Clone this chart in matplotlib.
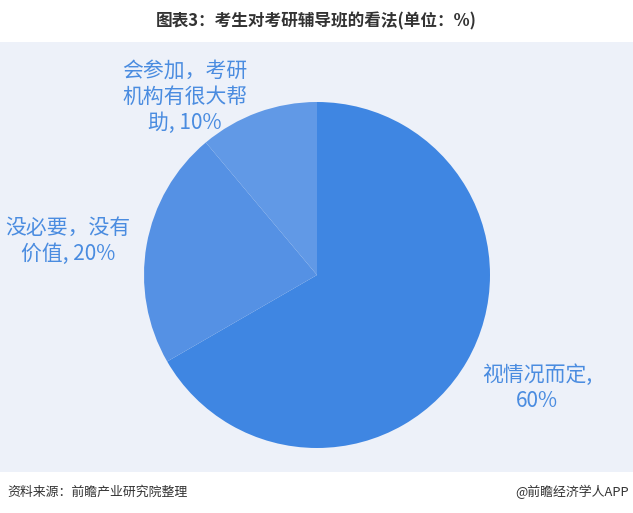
import matplotlib.pyplot as plt
from matplotlib.patches import Rectangle

plt.rcParams['font.family'] = ['Noto Sans CJK SC', 'DejaVu Sans']

# data
categories = ['视情况而定,\n60%', '没必要，没有\n价值, 20%', '会参加，考研\n机构有很大帮\n助, 10%']
values = [60, 20, 10]
colors = ['#3f86e2', '#5591e4', '#6199e6']

W, H = 633, 513
fig = plt.figure(figsize=(W / 100, H / 100), dpi=100)
fig.patch.set_facecolor('white')

# light panel behind the pie
bg = fig.add_axes([0, (H - 472) / H, 1, (472 - 42) / H], zorder=0)
bg.add_patch(Rectangle((0, 0), 1, 1, transform=bg.transAxes,
                       facecolor='#edf1f9', edgecolor='none'))
bg.axis('off')

# pie axes: centre (317, 275) px, radius 173 px
r, cx, cy = 173, 317, 275
ax = fig.add_axes([(cx - r) / W, (H - cy - r) / H, 2 * r / W, 2 * r / H], zorder=1)
ax.pie(values, colors=colors, startangle=90, counterclock=False,
       wedgeprops=dict(linewidth=0))
ax.set_xlim(-1, 1)
ax.set_ylim(-1, 1)
ax.set_aspect('equal')
ax.axis('off')

# slice labels (pixel positions of text centres)
label_pos = [(537, 388), (68, 241), (185, 97)]
for text, (x, y) in zip(categories, label_pos):
    fig.text(x / W, 1 - y / H, text, ha='center', va='center', fontsize=15,
             color='#4a8ce0', linespacing=1.25, fontweight='medium', zorder=3)

fig.text(316 / W, 1 - 21 / H, '图表3：考生对考研辅导班的看法(单位：%)', ha='center',
         va='center', fontsize=12, fontweight='bold', color='#333333')
fig.text(7 / W, 1 - 492 / H, '资料来源：前瞻产业研究院整理', ha='left', va='center',
         fontsize=9.3, color='#333333')
fig.text(629 / W, 1 - 492 / H, '@前瞻经济学人APP', ha='right', va='center',
         fontsize=9.3, color='#333333')

fig.savefig('out.png', dpi=100)
